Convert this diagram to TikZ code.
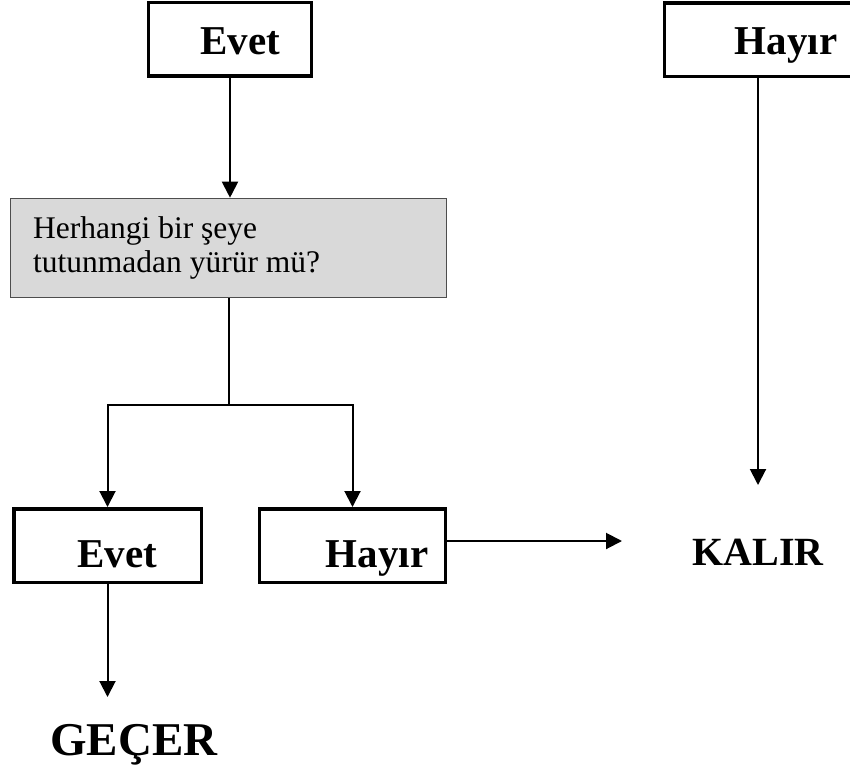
\documentclass[tikz,border=0pt]{standalone}
\usepackage{fontspec}
\setmainfont{Liberation Serif}
\usetikzlibrary{arrows.meta}
\definecolor{qfill}{HTML}{D9D9D9}
\definecolor{qedge}{HTML}{4D4D4D}
\begin{document}
\begin{tikzpicture}[x=1pt,y=-1pt,
  answerbox/.style={draw=black,line width=3.5pt,rectangle,inner sep=0pt,minimum width=#1,minimum height=73.5pt},
  questionbox/.style={draw=qedge,fill=qfill,line width=1.6pt,rectangle,inner sep=0pt,minimum width=436pt,minimum height=99pt},
  answer/.style={anchor=base,inner sep=0pt,font=\fontsize{41}{48}\selectfont\bfseries},
  result/.style={anchor=base,inner sep=0pt,font=\fontsize{#1}{#1}\selectfont\bfseries},
  question/.style={anchor=base west,inner sep=0pt,font=\fontsize{31.5}{34}\selectfont},
  link/.style={line width=2pt},
  arr/.style={link,-{Triangle[length=16pt,width=16pt]}}]
\useasboundingbox (0,0) rectangle (850,773);
\clip (0,0) rectangle (850,773);
\fill[white] (0,0) rectangle (850,773);

% boxes
\node[answerbox=163pt] (tEvet) at (230,39.5) {};
\node[answerbox=210pt] (tHayir) at (769.5,40) {};
\node[questionbox] (q) at (228.5,248) {};
\node[answerbox=187.5pt] (bEvet) at (107.5,545.5) {};
\node[answerbox=186pt] (bHayir) at (352.5,545.5) {};

% labels
\node[answer] (tEvetT) at (240,55) {Evet};
\node[answer] (tHayirT) at (786,55) {Hayır};
\node[answer] (bEvetT) at (117.5,567) {Evet};
\node[answer] (bHayirT) at (377,567) {Hayır};
\node[question] (q1) at (33,238) {Herhangi bir şeye};
\node[question] (q2) at (33,272) {tutunmadan yürür mü?};
\node[result=40] (kalir) at (758,565) {KALIR};
\node[result=47] (gecer) at (134,755) {GEÇER};

% connectors
\coordinate (split) at (228.5,405);
\coordinate (kIn) at (622,541);
\coordinate (kTop) at (758,485);
\coordinate (gTop) at (107.5,697);
\draw[arr] (tEvet.south) -- (tEvet.south |- q.north);
\draw[link] (q.south) -- (split);
\draw[arr] (split) -| (bEvet.north);
\draw[arr] (split) -| (bHayir.north);
\draw[arr] (bHayir.east |- kIn) -- (kIn);
\draw[arr] (tHayir.south -| kTop) -- (kTop);
\draw[arr] (bEvet.south) -- (gTop);
\end{tikzpicture}
\end{document}
